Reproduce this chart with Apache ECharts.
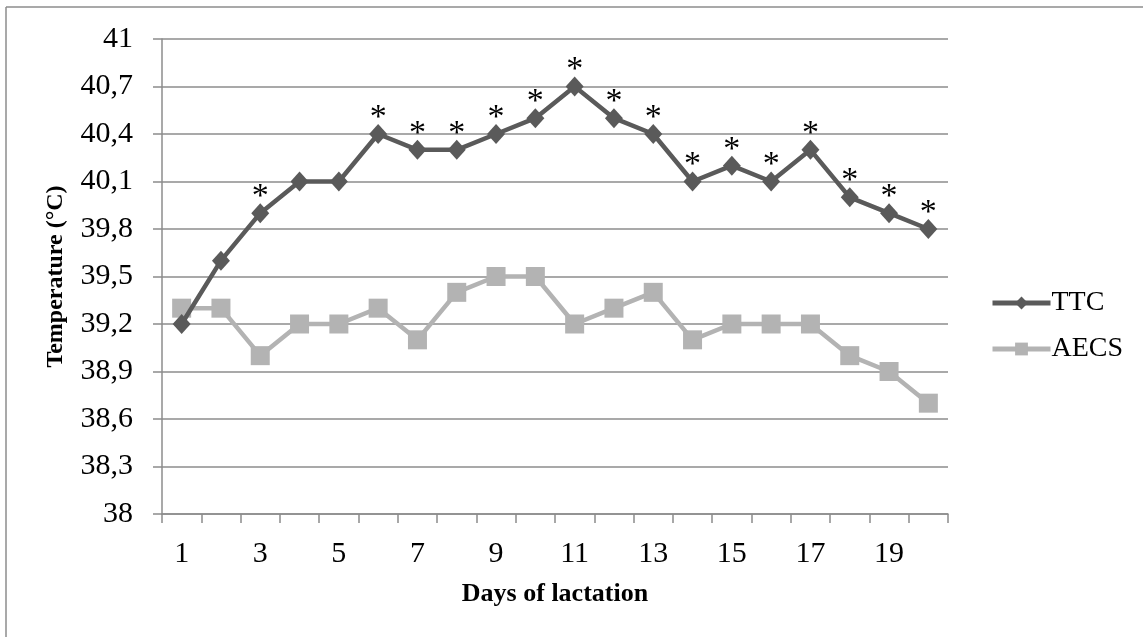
<!DOCTYPE html>
<html>
<head>
<meta charset="utf-8">
<script src="https://cdn.jsdelivr.net/npm/echarts@6/dist/echarts.min.js"></script>
<style>
html,body{margin:0;padding:0;background:#fff;}
#c{width:1143px;height:637px;}
</style>
</head>
<body>
<div id="c"></div>
<script>
var days = ['1','2','3','4','5','6','7','8','9','10','11','12','13','14','15','16','17','18','19','20'];
var ttc = [39.2, 39.6, 39.9, 40.1, 40.1, 40.4, 40.3, 40.3, 40.4, 40.5, 40.7, 40.5, 40.4, 40.1, 40.2, 40.1, 40.3, 40.0, 39.9, 39.8];
var aecs = [39.3, 39.3, 39.0, 39.2, 39.2, 39.3, 39.1, 39.4, 39.5, 39.5, 39.2, 39.3, 39.4, 39.1, 39.2, 39.2, 39.2, 39.0, 38.9, 38.7];
var signif = ['', '', '*', '', '', '*', '*', '*', '*', '*', '*', '*', '*', '*', '*', '*', '*', '*', '*', '*'];
var yTicks = ['38','38,3','38,6','38,9','39,2','39,5','39,8','40,1','40,4','40,7','41'];

var serif = '"Liberation Serif", "Times New Roman", serif';
var chart = echarts.init(document.getElementById('c'));
chart.setOption({
  animation: false,
  backgroundColor: '#fff',
  grid: { left: 162, right: 195, top: 39, bottom: 123 },
  graphic: [
    { type: 'line', shape: { x1: 6, y1: 7, x2: 1143, y2: 7 }, style: { stroke: '#8c8c8c', lineWidth: 1.5 } },
    { type: 'line', shape: { x1: 6, y1: 7, x2: 6, y2: 637 }, style: { stroke: '#8c8c8c', lineWidth: 1.5 } }
  ],
  legend: {
    orient: 'vertical',
    left: 985,
    top: 284,
    itemWidth: 58,
    itemHeight: 16,
    itemGap: 18,
    lineStyle: { width: 5 },
    textStyle: { fontFamily: serif, fontSize: 28, color: '#000', padding: [0,0,0,-4] },
    data: ['TTC', 'AECS']
  },
  xAxis: {
    type: 'category',
    data: days,
    boundaryGap: true,
    name: 'Days of lactation',
    nameLocation: 'middle',
    nameGap: 67,
    nameTextStyle: { fontFamily: serif, fontSize: 26, fontWeight: 'bold', color: '#000' },
    axisLine: { lineStyle: { color: '#8c8c8c', width: 1.5 } },
    axisTick: { show: true, interval: 0, length: 9, inside: false, lineStyle: { color: '#8c8c8c', width: 1.5 } },
    axisLabel: { interval: 1, margin: 25, fontFamily: serif, fontSize: 30, color: '#000' },
    splitLine: { show: false }
  },
  yAxis: {
    type: 'value',
    min: 38, max: 41, interval: 0.3,
    name: 'Temperature (°C)',
    nameLocation: 'middle',
    nameGap: 94,
    nameTextStyle: { fontFamily: serif, fontSize: 24, fontWeight: 'bold', color: '#000' },
    axisLine: { show: true, lineStyle: { color: '#8c8c8c', width: 1.5 } },
    axisTick: { show: true, length: 9, lineStyle: { color: '#8c8c8c', width: 1.5 } },
    axisLabel: {
      margin: 29, fontFamily: serif, fontSize: 30, color: '#000',
      formatter: function (v) {
        var i = Math.round((v - 38) / 0.3);
        return yTicks[i] !== undefined ? yTicks[i] : '';
      }
    },
    splitLine: { show: true, lineStyle: { color: '#8c8c8c', width: 1.5 } }
  },
  series: [
    {
      name: 'TTC',
      type: 'line',
      data: ttc,
      z: 3,
      color: '#5a5a5a',
      lineStyle: { color: '#5a5a5a', width: 4.5 },
      itemStyle: { color: '#5a5a5a' },
      symbol: 'diamond',
      symbolSize: [18, 20],
      label: {
        show: true,
        position: 'top',
        distance: 0,
        offset: [0, 11],
        fontFamily: serif,
        fontSize: 34,
        color: '#000',
        formatter: function (p) { return signif[p.dataIndex]; }
      }
    },
    {
      name: 'AECS',
      type: 'line',
      data: aecs,
      z: 2,
      color: '#b3b3b3',
      lineStyle: { color: '#b3b3b3', width: 4.5 },
      itemStyle: { color: '#b3b3b3' },
      symbol: 'rect',
      symbolSize: 19,
      label: { show: false }
    }
  ]
});
</script>
</body>
</html>
